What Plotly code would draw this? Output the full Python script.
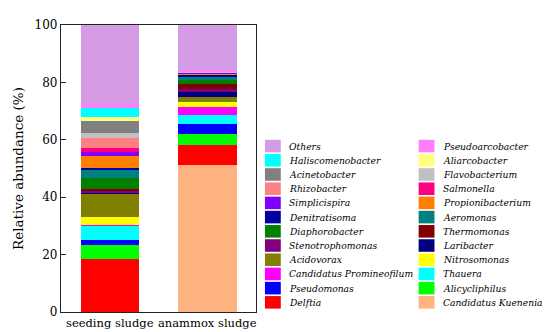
import plotly.graph_objects as go

samples = ["seeding sludge", "anammox sludge"]

# stacking order: bottom -> top
genera = [
    "Candidatus Kuenenia", "Delftia", "Alicycliphilus", "Pseudomonas", "Thauera",
    "Candidatus Promineofilum", "Nitrosomonas", "Acidovorax", "Laribacter",
    "Stenotrophomonas", "Thermomonas", "Diaphorobacter", "Aeromonas", "Denitratisoma",
    "Propionibacterium", "Simplicispira", "Salmonella", "Rhizobacter", "Flavobacterium",
    "Acinetobacter", "Aliarcobacter", "Haliscomenobacter", "Pseudoarcobacter", "Others",
]
seeding = [
    0.0, 18.64, 4.72, 1.82, 4.92,
    0.34, 2.83, 8.09, 0.10,
    0.88, 0.57, 3.71, 3.13, 0.60,
    3.90, 1.55, 1.35, 3.37, 1.82,
    4.38, 1.21, 3.03, 1.48, 27.56,
]
anammox = [
    51.1, 7.08, 3.81, 3.60, 3.03,
    2.80, 1.92, 1.69, 1.46,
    1.35, 1.46, 1.46, 1.01, 0.88,
    0.30, 0.35, 0.20, 0.10, 0.05,
    0.05, 0.10, 0.05, 0.35, 16.00,
]
colors = [
    "#FFB380", "#FF0000", "#00FF00", "#0000FF", "#00FFFF",
    "#FF00FF", "#FFFF00", "#808000", "#000080",
    "#800080", "#800000", "#008000", "#008080", "#0000A0",
    "#FF8000", "#8000FF", "#FF0080", "#FF8080", "#C0C0C0",
    "#808080", "#FFFF80", "#00FFFF", "#FF80FF", "#D69BE5",
]
# legend columns (top -> bottom)
legend_left = ["Others", "Haliscomenobacter", "Acinetobacter", "Rhizobacter", "Simplicispira",
               "Denitratisoma", "Diaphorobacter", "Stenotrophomonas", "Acidovorax",
               "Candidatus Promineofilum", "Pseudomonas", "Delftia"]
legend_right = ["Pseudoarcobacter", "Aliarcobacter", "Flavobacterium", "Salmonella",
                "Propionibacterium", "Aeromonas", "Thermomonas", "Laribacter",
                "Nitrosomonas", "Thauera", "Alicycliphilus", "Candidatus Kuenenia"]

W, H = 550, 332
ML, MR, MT, MB = 45, 302, 10, 25
PW, PH = W - ML - MR, H - MT - MB

def px(x):
    return (x - ML) / PW

def py(y):
    return (H - MB - y) / PH

fig = go.Figure()
for g, s, a, c in zip(genera, seeding, anammox, colors):
    fig.add_trace(go.Bar(x=samples, y=[s, a], name=g, marker=dict(color=c, line=dict(width=0)),
                         showlegend=False))

color_of = dict(zip(genera, colors))
shapes, annotations = [], []
FONT = "DejaVu Serif"
row0, dy = 135.3, 14.7
for col, names in ((257.3, legend_left), (417.3, legend_right)):
    for i, n in enumerate(names):
        yc = row0 + i * dy
        shapes.append(dict(type="rect", xref="paper", yref="paper",
                           x0=px(col), x1=px(col + 16.5), y0=py(yc + 6.5), y1=py(yc - 6.5),
                           fillcolor=color_of[n], line=dict(width=0)))
        annotations.append(dict(xref="paper", yref="paper", x=px(col + 23), y=py(yc),
                                xanchor="left", yanchor="middle", showarrow=False,
                                text="<i>" + n + "</i>",
                                font=dict(family=FONT, size=9.2, color="black")))

fig.update_layout(
    barmode="stack",
    bargap=0.4,
    width=W, height=H,
    margin=dict(l=ML, r=MR, t=MT, b=MB, pad=0),
    paper_bgcolor="white", plot_bgcolor="white",
    font=dict(family=FONT, size=12, color="black"),
    shapes=shapes, annotations=annotations,
    xaxis=dict(showline=True, linecolor="#222", linewidth=1.3, mirror=True,
               ticks="", tickangle=0, tickfont=dict(family=FONT, size=11.5), showgrid=False),
    yaxis=dict(range=[0, 100], tickvals=[0, 20, 40, 60, 80, 100], showline=True,
               linecolor="#222", linewidth=1.3, mirror=True, ticks="inside", ticklen=5,
               tickcolor="#222", showgrid=False, zeroline=False,
               tickfont=dict(family=FONT, size=12),
               title=dict(text="Relative abundance (%)", font=dict(family=FONT, size=13.5),
                          standoff=7)),
)
fig.write_html("out.html")
